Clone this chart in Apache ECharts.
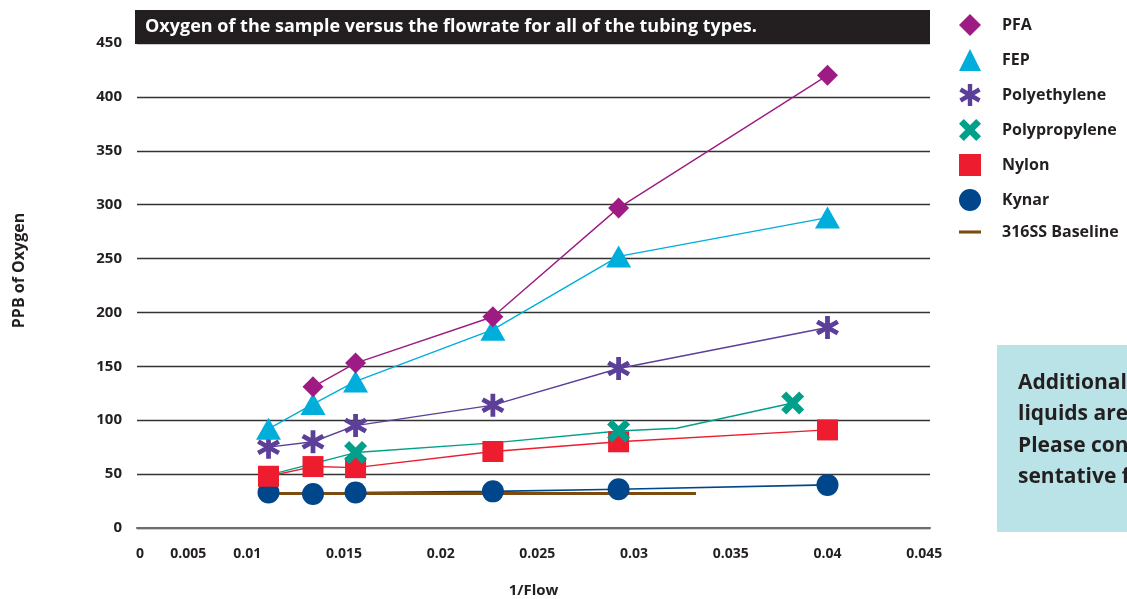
<!DOCTYPE html>
<html><head><meta charset="utf-8">
<script src="https://cdn.jsdelivr.net/npm/echarts@6/dist/echarts.min.js"></script>
<style>html,body{margin:0;padding:0;background:#fff;}#c{width:1127px;height:599px;}</style>
</head><body><div id="c"></div>
<script>
// ---- data ----
const flow = [0.0111, 0.0134, 0.0156, 0.0227, 0.0292, 0.0400];
const pfa = [null, 131, 153, 196, 297, 420];
const fep = [92, 115, 136, 184, 252, 288];
const polyethylene = [75, 80, 95, 114, 148, 186];
const nylon = [48, 57, 56, 71, 80, 91];
const kynar = [33, 31.5, 33, 34, 36, 40];
const ppFlow = [0.0111, 0.0156, 0.0227, 0.0292, 0.0322, 0.0382];
const polypropylene = [49, 70, 79, 90, 92.5, 116];
const ppMarked = [false, true, false, true, false, true];
const baselineFlow = [0.0111, 0.0332];
const baseline = [32, 32];
const xTickLabels = ['0', '0.005', '0.01', '0.015', '0.02', '0.025', '0.03', '0.035', '0.04', '0.045'];
const xTickAt = [0.00445, 0.00695, 0.01, 0.015, 0.02, 0.025, 0.03, 0.035, 0.04, 0.045];
const seriesNames = ['PFA', 'FEP', 'Polyethylene', 'Polypropylene', 'Nylon', 'Kynar', '316SS Baseline'];
const titleText = 'Oxygen of the sample versus the flowrate for all of the tubing types.';
const noteLines = ['Additional data for other', 'liquids are available.', 'Please contact your repre-', 'sentative for details.'];

// ---- styling ----
const FONT = '"Open Sans", "Noto Sans", sans-serif';
const INK = '#231f20';
const ASTERISK = 'path://M40,0L60,0L60,100L40,100Z M88.3,16.34L98.3,33.66L11.7,83.66L1.7,66.34Z M1.7,33.66L11.7,16.34L98.3,66.34L88.3,83.66Z';
const CROSS = 'path://M75.46,4.75L95.25,24.54L24.54,95.25L4.75,75.46Z M4.75,24.54L24.54,4.75L95.25,75.46L75.46,95.25Z';
const BAR = 'path://M0,0H100V14H0Z';
const colors = {
  'PFA': '#9e1b84', 'FEP': '#00aedb', 'Polyethylene': '#5b3f98', 'Polypropylene': '#00a08a',
  'Nylon': '#ed1c2e', 'Kynar': '#00468b', '316SS Baseline': '#7b4b10'
};
const symbols = {
  'PFA': ['diamond', 21], 'FEP': ['triangle', [25, 22]], 'Polyethylene': [ASTERISK, 23],
  'Polypropylene': [CROSS, 23], 'Nylon': ['rect', 21], 'Kynar': ['circle', 22], '316SS Baseline': ['none', 0]
};

function pairs(xs, ys) {
  const out = [];
  xs.forEach((x, i) => { if (ys[i] != null) out.push([x, ys[i]]); });
  return out;
}
function lineSeries(name, data, width) {
  return {
    name, type: 'line', data, color: colors[name],
    symbol: symbols[name][0], symbolSize: symbols[name][1], symbolKeepAspect: false,
    lineStyle: { color: colors[name], width: width || 1.4 },
    itemStyle: { color: colors[name] },
    emphasis: { disabled: true }, z: 3
  };
}

const ppData = ppFlow.map((x, i) => ppMarked[i] ? [x, polypropylene[i]] : { value: [x, polypropylene[i]], symbol: 'none' });

// draw order: later series on top
const series = [
  lineSeries('Kynar', pairs(flow, kynar), 1.6),
  lineSeries('316SS Baseline', pairs(baselineFlow, baseline), 3),
  lineSeries('Nylon', pairs(flow, nylon)),
  lineSeries('Polypropylene', ppData),
  lineSeries('Polyethylene', pairs(flow, polyethylene)),
  lineSeries('FEP', pairs(flow, fep)),
  lineSeries('PFA', pairs(flow, pfa))
];

const legendIcons = {
  'PFA': 'diamond', 'FEP': 'triangle', 'Polyethylene': ASTERISK, 'Polypropylene': CROSS,
  'Nylon': 'rect', 'Kynar': 'circle', '316SS Baseline': BAR
};

const chart = echarts.init(document.getElementById('c'), null, { renderer: 'canvas' });
chart.setOption({
  animation: false,
  backgroundColor: '#ffffff',
  textStyle: { fontFamily: FONT },
  grid: { left: 137, right: 197, top: 43, bottom: 71, containLabel: false, outerBoundsMode: 'none' },
  xAxis: {
    type: 'value', min: 0.0043, max: 0.0453,
    name: '1/Flow', nameLocation: 'middle', nameGap: 55,
    nameTextStyle: { color: INK, fontWeight: 'bold', fontSize: 15, fontFamily: FONT },
    axisLine: { show: true, onZero: false, lineStyle: { color: '#6e6e6e', width: 2.2 } },
    axisTick: { show: false },
    splitLine: { show: false },
    axisLabel: {
      customValues: xTickAt, margin: 19,
      color: INK, fontWeight: 'bold', fontSize: 14, fontFamily: FONT,
      formatter: v => { const i = xTickAt.findIndex(t => Math.abs(t - v) < 1e-7); return i >= 0 ? xTickLabels[i] : ''; }
    }
  },
  yAxis: {
    type: 'value', min: 0, max: 450, interval: 50,
    name: 'PPB of Oxygen', nameLocation: 'middle', nameGap: 110,
    nameTextStyle: { color: INK, fontWeight: 'bold', fontSize: 16, fontFamily: FONT, padding: [0, 0, 0, 30] },
    axisLine: { show: false }, axisTick: { show: false },
    axisLabel: { margin: 15, color: INK, fontWeight: 'bold', fontSize: 15, fontFamily: FONT },
    splitLine: { show: true, lineStyle: { color: '#333333', width: 1.3 } }
  },
  legend: {
    orient: 'vertical', left: 954, top: 9,
    itemWidth: 22, itemHeight: 22, itemGap: 13,
    selectedMode: false,
    textStyle: { color: INK, fontWeight: 'bold', fontSize: 16, fontFamily: FONT, padding: [0, 0, 0, 16] },
    data: seriesNames.map(n => ({ name: n, icon: legendIcons[n] }))
  },
  series,
  graphic: [
    { type: 'rect', left: 135, top: 10, z: 100, shape: { width: 795, height: 34 }, style: { fill: '#231f20' } },
    { type: 'text', x: 145, y: 27, z: 101,
      style: { text: titleText, fill: '#ffffff', font: 'bold 18px ' + FONT, verticalAlign: 'middle' } },
    { type: 'rect', left: 997, top: 345, z: 100, shape: { width: 140, height: 187 }, style: { fill: '#b9e3e6' } },
    { type: 'text', left: 1018, top: 367, z: 101,
      style: { text: noteLines.join('\n'), fill: INK, font: 'bold 21px ' + FONT, lineHeight: 31.5 } }
  ]
});
</script>
</body></html>
